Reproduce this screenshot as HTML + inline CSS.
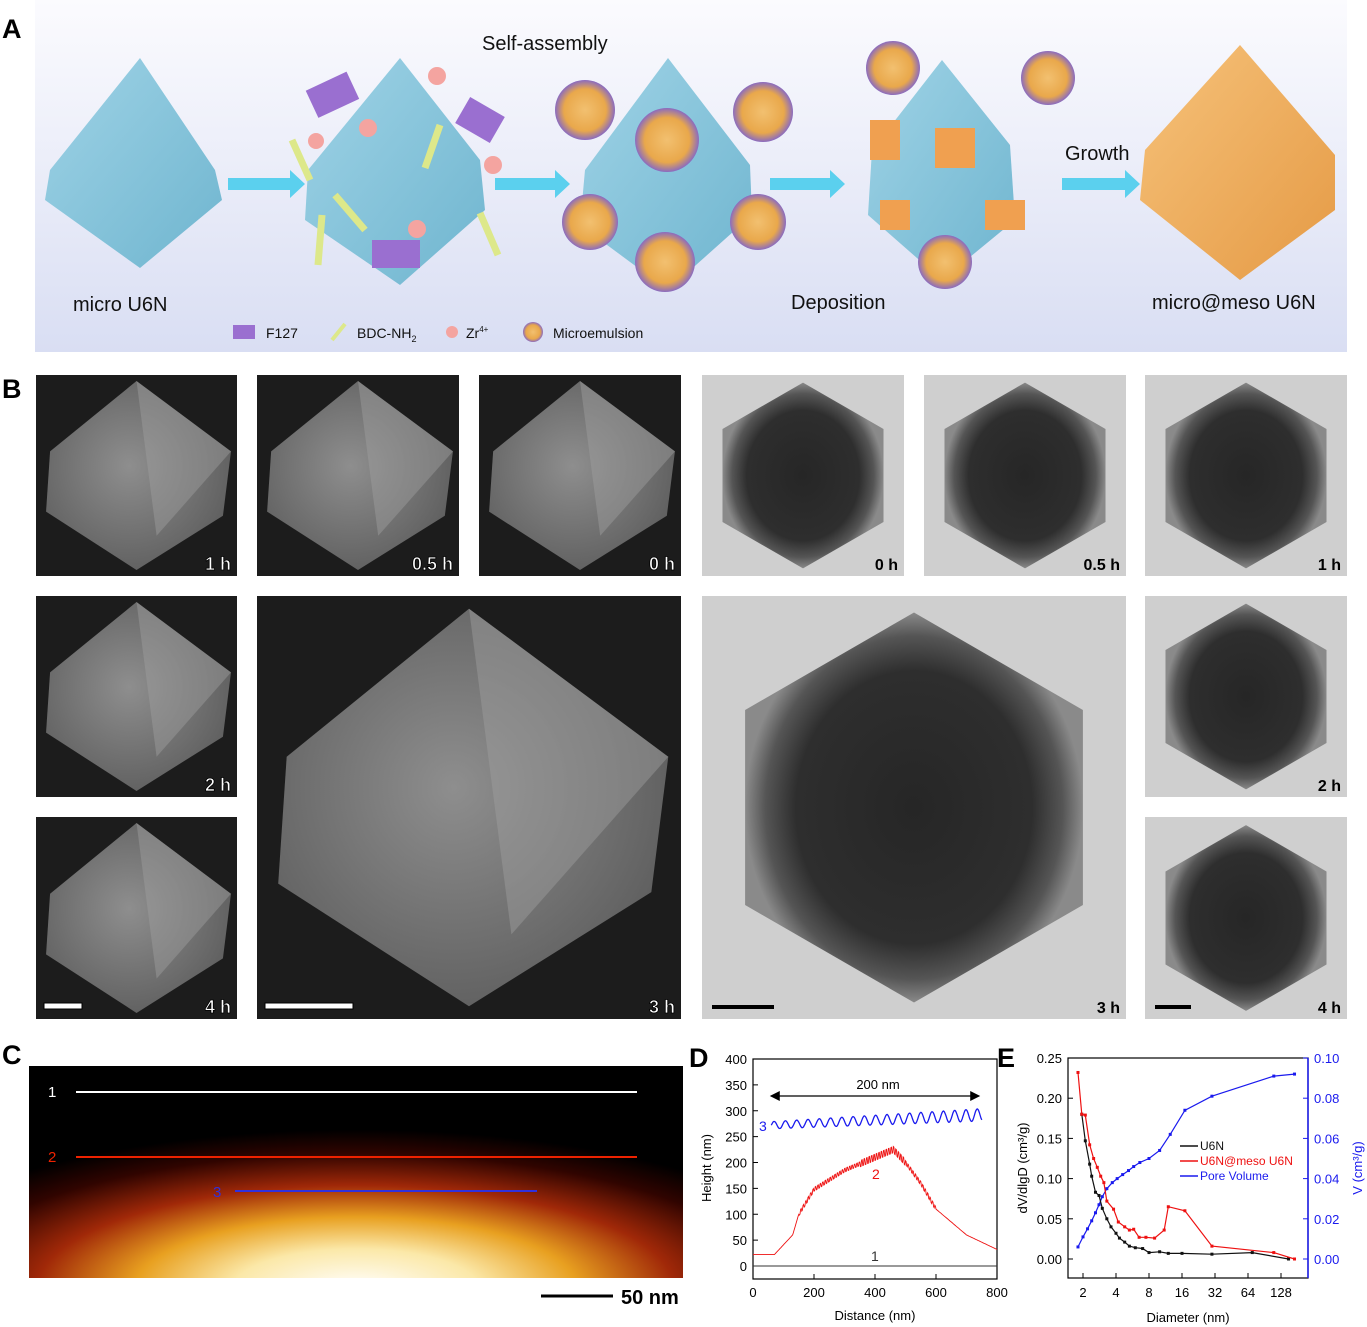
<!DOCTYPE html>
<html><head><meta charset="utf-8"><style>
html,body{margin:0;padding:0;background:#fff;}
svg{display:block;font-family:"Liberation Sans",sans-serif;}
</style></head><body>
<svg id="s" width="1367" height="1327" viewBox="0 0 1367 1327" xmlns="http://www.w3.org/2000/svg">
<defs>
<linearGradient id="bgA" x1="0" y1="0" x2="0" y2="1"><stop offset="0" stop-color="#fbfbfe"/><stop offset="1" stop-color="#d9def3"/></linearGradient>
<linearGradient id="oct" x1="0" y1="0" x2="1" y2="1"><stop offset="0" stop-color="#9fd3e6"/><stop offset="1" stop-color="#6fb5cf"/></linearGradient>
<linearGradient id="octO" x1="0" y1="0" x2="1" y2="1"><stop offset="0" stop-color="#f6c27a"/><stop offset="1" stop-color="#e59a45"/></linearGradient>
<radialGradient id="sem" cx="0.45" cy="0.45" r="0.6"><stop offset="0" stop-color="#8e8e8e"/><stop offset="1" stop-color="#5e5e5e"/></radialGradient>
<radialGradient id="tem" cx="0.5" cy="0.5" r="0.5"><stop offset="0" stop-color="#262626"/><stop offset="0.7" stop-color="#2e2e2e"/><stop offset="0.88" stop-color="#555"/><stop offset="1" stop-color="#8a8a8a"/></radialGradient>
<radialGradient id="afm" cx="0.5" cy="1.05" r="0.75" fx="0.5" fy="1.05"><stop offset="0" stop-color="#ffffff"/><stop offset="0.25" stop-color="#fbe8a8"/><stop offset="0.45" stop-color="#e8a020"/><stop offset="0.65" stop-color="#a02808"/><stop offset="0.85" stop-color="#300400"/><stop offset="1" stop-color="#000"/></radialGradient>
<radialGradient id="emu" cx="0.5" cy="0.5" r="0.5"><stop offset="0" stop-color="#f2c070"/><stop offset="0.7" stop-color="#e9a84b"/><stop offset="1" stop-color="#8a6bc0"/></radialGradient>
</defs>
<rect x="35" y="0" width="1312" height="352" fill="url(#bgA)"/>
<text x="2" y="38" font-size="27" font-weight="bold">A</text>
<g fill="url(#oct)">
<polygon points="140,58 215,170 222,200 140,268 45,200 50,170"/>
<polygon points="400,58 480,160 485,210 400,285 305,220 308,170"/>
<polygon points="668,58 750,165 752,215 668,290 580,225 585,170"/>
<polygon points="942,60 1010,145 1015,220 942,280 868,215 872,150"/>
</g>
<polygon points="1240,45 1335,155 1335,210 1240,280 1140,200 1145,150" fill="url(#octO)"/>
<g fill="#5bd0ee"><polygon points="228,178 290,178 290,170 305,184 290,198 290,190 228,190"/><polygon points="495,178 555,178 555,170 570,184 555,198 555,190 495,190"/><polygon points="770,178 830,178 830,170 845,184 830,198 830,190 770,190"/><polygon points="1062,178 1125,178 1125,170 1140,184 1125,198 1125,190 1062,190"/></g>
<g fill="#f4a4a0"><circle cx="437" cy="76" r="9"/><circle cx="368" cy="128" r="9"/><circle cx="316" cy="141" r="8"/><circle cx="493" cy="165" r="9"/><circle cx="417" cy="229" r="9"/></g>
<g stroke="#dde88a" stroke-width="7"><line x1="292" y1="140" x2="310" y2="180"/><line x1="440" y1="125" x2="425" y2="168"/><line x1="335" y1="195" x2="365" y2="230"/><line x1="322" y1="215" x2="318" y2="265"/><line x1="480" y1="213" x2="498" y2="255"/></g>
<g fill="#9a6fd0"><rect x="310" y="80" width="45" height="30" transform="rotate(-25 332 95)"/><rect x="460" y="105" width="40" height="30" transform="rotate(30 480 120)"/><rect x="372" y="240" width="48" height="28"/></g>
<g fill="url(#emu)"><circle cx="585" cy="110" r="30"/><circle cx="667" cy="140" r="32"/><circle cx="763" cy="112" r="30"/><circle cx="590" cy="222" r="28"/><circle cx="758" cy="222" r="28"/><circle cx="665" cy="262" r="30"/><circle cx="893" cy="68" r="27"/><circle cx="1048" cy="78" r="27"/><circle cx="945" cy="262" r="27"/></g>
<g fill="#f0a050"><rect x="935" y="128" width="40" height="40"/><rect x="870" y="120" width="30" height="40"/><rect x="985" y="200" width="40" height="30"/><rect x="880" y="200" width="30" height="30"/></g>
<g font-size="20" fill="#111"><text x="482" y="50">Self-assembly</text><text x="1065" y="160">Growth</text><text x="73" y="311">micro U6N</text><text x="791" y="309">Deposition</text><text x="1152" y="309">micro@meso U6N</text></g>
<g font-size="14" fill="#111"><rect x="233" y="325" width="22" height="14" fill="#9a6fd0"/><text x="266" y="338">F127</text><line x1="332" y1="340" x2="345" y2="324" stroke="#dde88a" stroke-width="4"/><text x="357" y="338">BDC-NH<tspan font-size="9" dy="4">2</tspan></text><circle cx="452" cy="332" r="6" fill="#f4a4a0"/><text x="466" y="338">Zr<tspan font-size="8" dy="-6">4+</tspan></text><circle cx="533" cy="332" r="10" fill="url(#emu)"/><text x="553" y="338">Microemulsion</text></g>
<text x="2" y="398" font-size="27" font-weight="bold">B</text>
<g id="semtiles"></g>
<text x="2" y="1064" font-size="27" font-weight="bold">C</text>
<rect x="29" y="1066" width="654" height="212" fill="url(#afm)"/>
<line x1="76" y1="1092" x2="637" y2="1092" stroke="#fff" stroke-width="2"/>
<line x1="76" y1="1157" x2="637" y2="1157" stroke="#ee2200" stroke-width="2"/>
<line x1="235" y1="1191" x2="537" y2="1191" stroke="#3030dd" stroke-width="2"/>
<text x="48" y="1097" font-size="15" fill="#fff">1</text><text x="48" y="1162" font-size="15" fill="#ee2200">2</text><text x="213" y="1197" font-size="15" fill="#3030dd">3</text>
<line x1="541" y1="1296" x2="613" y2="1296" stroke="#000" stroke-width="3"/>
<text x="621" y="1304" font-size="20" font-weight="bold">50 nm</text>
<text x="689" y="1067" font-size="27" font-weight="bold">D</text>
<g id="D"></g>
<text x="997" y="1067" font-size="27" font-weight="bold">E</text>
<g id="E"></g>
</svg>
<script>
var s=document.getElementById('s'),NS='http://www.w3.org/2000/svg';
function el(t,a,p,txt){var e=document.createElementNS(NS,t);for(var k in a)e.setAttribute(k,a[k]);if(txt!=null)e.textContent=txt;(p||s).appendChild(e);return e;}
var B=document.getElementById('semtiles');
function hex(cx,cy,r){var p=[];for(var i=0;i<6;i++){var a=Math.PI/3*i+Math.PI/6;p.push((cx+r*Math.cos(a)).toFixed(1)+','+(cy+r*Math.sin(a)).toFixed(1));}return p.join(' ');}
function semTile(x,y,w,h,lab,bar){el('rect',{x:x,y:y,width:w,height:h,fill:'#1c1c1c'},B);var cx=x+w/2,cy=y+h/2;
el('polygon',{points:[cx,y+h*0.03,x+w*0.97,cy-h*0.12,x+w*0.93,cy+h*0.2,cx,y+h*0.97,x+w*0.05,cy+h*0.18,x+w*0.07,cy-h*0.12].join(','),fill:'url(#sem)'},B);
el('polygon',{points:[cx,y+h*0.03,x+w*0.97,cy-h*0.12,x+w*0.6,cy+h*0.3].join(','),fill:'#a0a0a0',opacity:0.45},B);
el('text',{x:x+w-6,y:y+h-6,'font-size':18,'font-weight':'bold',fill:'#fff','text-anchor':'end',stroke:'#000','stroke-width':0.8},B,lab);
if(bar)el('rect',{x:x+8,y:y+h-16,width:bar,height:6,fill:'#fff',stroke:'#000'},B);}
function temTile(x,y,w,h,lab,bar){el('rect',{x:x,y:y,width:w,height:h,fill:'#cfcfcf'},B);var cx=x+w/2,cy=y+h/2;
el('polygon',{points:hex(cx,cy,w*0.46),fill:'url(#tem)'},B);
el('text',{x:x+w-6,y:y+h-6,'font-size':16,'font-weight':'bold',fill:'#000','text-anchor':'end'},B,lab);
if(bar)el('rect',{x:x+10,y:y+h-14,width:bar,height:4,fill:'#000'},B);}
semTile(36,375,201,201,'1 h');semTile(257,375,202,201,'0.5 h');semTile(479,375,202,201,'0 h');
temTile(702,375,202,201,'0 h');temTile(924,375,202,201,'0.5 h');temTile(1145,375,202,201,'1 h');
semTile(36,596,201,201,'2 h');semTile(257,596,424,423,'3 h',88);temTile(702,596,424,423,'3 h',62);temTile(1145,596,202,201,'2 h');
semTile(36,817,201,202,'4 h',38);temTile(1145,817,202,202,'4 h',36);
var D=document.getElementById('D');
function dx(v){return 753+v*244/800;}function dy(v){return 1266-v*0.5175;}
el('rect',{x:753,y:1059,width:244,height:220,fill:'none',stroke:'#000','stroke-width':1.2},D);
for(var v=0;v<=400;v+=50){el('line',{x1:753,y1:dy(v),x2:758,y2:dy(v),stroke:'#000'},D);el('text',{x:747,y:dy(v)+5,'font-size':13,'text-anchor':'end'},D,v);}
for(var v=0;v<=800;v+=200){el('line',{x1:dx(v),y1:1279,x2:dx(v),y2:1274,stroke:'#000'},D);el('text',{x:dx(v),y:1297,'font-size':13,'text-anchor':'middle'},D,v);}
el('text',{x:875,y:1320,'font-size':13,'text-anchor':'middle'},D,'Distance (nm)');
el('text',{x:0,y:0,'font-size':13,'text-anchor':'middle',transform:'translate(711,1168) rotate(-90)'},D,'Height (nm)');
el('line',{x1:753,y1:dy(0),x2:997,y2:dy(0),stroke:'#333'},D);
var p2=[[0,22],[70,22],[130,60],[150,100],[200,148],[300,185],[400,210],[460,225],[500,200],[550,160],[600,110],[700,60],[800,32]];
function interp(pts,x){for(var i=1;i<pts.length;i++)if(x<=pts[i][0]){var a=pts[i-1],b=pts[i];return a[1]+(b[1]-a[1])*(x-a[0])/(b[0]-a[0]);}return pts[pts.length-1][1];}
var d='';for(var x=0;x<=800;x+=2){var y=interp(p2,x);if(x>150&&x<600)y+=((Math.floor(x/4)%2)?1:-1)*((x>350&&x<500)?6:3.5);d+=(x?'L':'M')+dx(x).toFixed(1)+','+dy(y).toFixed(1);}
el('path',{d:d,fill:'none',stroke:'#ee1111','stroke-width':0.9},D);
d='';for(var x=60;x<=750;x+=2){var base=272+20*(x-60)/690,amp=7+5*(x-60)/690;var y=base+amp*Math.sin((x-60)/37*2*Math.PI);d+=(x>60?'L':'M')+dx(x).toFixed(1)+','+dy(y).toFixed(1);}
el('path',{d:d,fill:'none',stroke:'#1a1aee','stroke-width':1.3},D);
el('line',{x1:dx(60),y1:1096,x2:dx(740),y2:1096,stroke:'#000','stroke-width':1.3},D);
el('polygon',{points:[dx(55),1096,dx(55)+10,1091,dx(55)+10,1101].join(','),fill:'#000'},D);
el('polygon',{points:[dx(745),1096,dx(745)-10,1091,dx(745)-10,1101].join(','),fill:'#000'},D);
el('text',{x:878,y:1089,'font-size':13,'text-anchor':'middle'},D,'200 nm');
el('text',{x:759,y:1131,'font-size':14,fill:'#1a1aee'},D,'3');
el('text',{x:872,y:1179,'font-size':14,fill:'#ee1111'},D,'2');
el('text',{x:871,y:1261,'font-size':14,fill:'#333'},D,'1');
var E=document.getElementById('E');
function ex(d){return 1083+33*Math.log2(d/2);}function eyl(v){return 1259-804*v;}function eyr(v){return 1259-2010*v;}
el('rect',{x:1068,y:1058,width:240,height:220,fill:'none',stroke:'#000','stroke-width':1.2},E);
el('line',{x1:1308,y1:1058,x2:1308,y2:1278,stroke:'#1a1aee','stroke-width':1.5},E);
for(var i=0;i<=5;i++){var v=i*0.05;el('line',{x1:1068,y1:eyl(v),x2:1073,y2:eyl(v),stroke:'#000'},E);el('text',{x:1062,y:eyl(v)+5,'font-size':13,'text-anchor':'end'},E,v.toFixed(2));}
for(var i=0;i<=5;i++){var v=i*0.02;el('line',{x1:1303,y1:eyr(v),x2:1308,y2:eyr(v),stroke:'#1a1aee'},E);el('text',{x:1314,y:eyr(v)+5,'font-size':13,fill:'#1a1aee'},E,v.toFixed(2));}
[2,4,8,16,32,64,128].forEach(function(t){el('line',{x1:ex(t),y1:1278,x2:ex(t),y2:1273,stroke:'#000'},E);el('text',{x:ex(t),y:1297,'font-size':13,'text-anchor':'middle'},E,t);});
el('text',{x:1188,y:1322,'font-size':13,'text-anchor':'middle'},E,'Diameter (nm)');
el('text',{x:0,y:0,'font-size':13,'text-anchor':'middle',transform:'translate(1027,1168) rotate(-90)'},E,'dV/dlgD (cm³/g)');
el('text',{x:0,y:0,'font-size':13,'text-anchor':'middle',fill:'#1a1aee',transform:'translate(1362,1168) rotate(-90)'},E,'V (cm³/g)');
function series(pts,fy,col){var d='';pts.forEach(function(p,i){d+=(i?'L':'M')+ex(p[0]).toFixed(1)+','+fy(p[1]).toFixed(1);});el('path',{d:d,fill:'none',stroke:col,'stroke-width':1.2},E);pts.forEach(function(p){el('rect',{x:ex(p[0])-1.5,y:fy(p[1])-1.5,width:3,height:3,fill:col},E);});}
series([[1.8,0.006],[2,0.011],[2.2,0.015],[2.4,0.019],[2.6,0.023],[2.8,0.027],[3,0.031],[3.3,0.035],[3.7,0.038],[4.1,0.04],[4.6,0.042],[5.2,0.044],[5.8,0.046],[6.6,0.048],[8,0.05],[10,0.054],[12.5,0.062],[17,0.074],[30,0.081],[110,0.091],[170,0.092]],eyr,'#1a1aee');
series([[1.95,0.18],[2.1,0.147],[2.3,0.118],[2.4,0.103],[2.6,0.083],[2.8,0.079],[3,0.063],[3.3,0.05],[3.6,0.04],[4,0.032],[4.3,0.026],[4.8,0.021],[5.3,0.016],[6,0.014],[7,0.013],[8,0.008],[10,0.009],[12,0.007],[16,0.007],[30,0.006],[70,0.008],[150,0]],eyl,'#111');
series([[1.8,0.232],[1.95,0.18],[2.1,0.179],[2.3,0.142],[2.5,0.125],[2.7,0.114],[2.9,0.103],[3.1,0.095],[3.3,0.072],[3.8,0.062],[4.2,0.046],[4.8,0.04],[5.3,0.036],[5.8,0.037],[6.5,0.027],[7.5,0.027],[9,0.026],[11,0.036],[12,0.065],[17,0.06],[30,0.016],[110,0.008],[170,0]],eyl,'#ee1111');
[['U6N','#111',1150],['U6N@meso U6N','#ee1111',1165],['Pore Volume','#1a1aee',1180]].forEach(function(l){el('line',{x1:1180,y1:l[2]-4,x2:1198,y2:l[2]-4,stroke:l[1],'stroke-width':1.5},E);el('text',{x:1200,y:l[2],'font-size':12,fill:l[1]},E,l[0]);});
</script>
</body></html>
